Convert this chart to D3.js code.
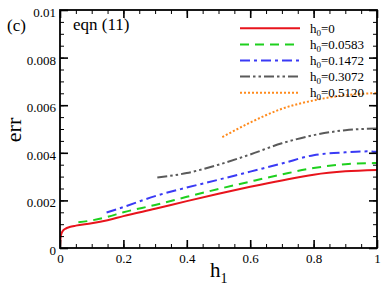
<!DOCTYPE html>
<html><head><meta charset="utf-8">
<script src="https://cdn.jsdelivr.net/npm/d3@7"></script>
<style>
body{margin:0;background:#fff;}
text{font-family:"Liberation Serif","Times New Roman",serif;fill:#000;}
</style></head>
<body><svg id="c" width="390" height="294"></svg>
<script>
const xTicks=[0,0.2,0.4,0.6,0.8,1];
const xTickLabels=["0","0.2","0.4","0.6","0.8","1"];
const yTicks=[0,0.002,0.004,0.006,0.008,0.01];
const yTickLabels=["0","0.002","0.004","0.006","0.008","0.01"];
const seriesNames=["0","0.0583","0.1472","0.3072","0.5120"];
const h1Red=[0,0.002,0.005,0.01,0.02,0.03,0.05,0.1,0.15,0.2,0.3,0.4,0.5,0.6,0.7,0.8,0.9,1.0];
const errRed=[0,0.00045,0.00062,0.00074,0.00083,0.00088,0.00094,0.00104,0.00117,0.00134,0.00165,0.00197,0.00228,0.00257,0.00284,0.00308,0.00322,0.00328];
const h1Green=[0.058,0.1,0.15,0.2,0.3,0.4,0.5,0.6,0.7,0.8,0.9,1.0];
const errGreen=[0.00108,0.00116,0.00131,0.0015,0.00181,0.00215,0.00248,0.00279,0.00309,0.00336,0.00352,0.00357];
const h1Blue=[0.147,0.2,0.3,0.4,0.5,0.6,0.7,0.8,0.9,0.97,1.0];
const errBlue=[0.00149,0.00172,0.00218,0.00254,0.00287,0.00321,0.00355,0.0039,0.00402,0.00406,0.00404];
const h1Gray=[0.307,0.4,0.5,0.6,0.7,0.8,0.9,1.0];
const errGray=[0.00296,0.00315,0.0035,0.00393,0.0044,0.00474,0.00495,0.00502];
const h1Orange=[0.512,0.6,0.7,0.8,0.9,1.0];
const errOrange=[0.00466,0.00527,0.00585,0.0062,0.00642,0.00651];

const series=[
 {name:seriesNames[0],xs:h1Red,ys:errRed,color:"#e8141c",dash:null},
 {name:seriesNames[1],xs:h1Green,ys:errGreen,color:"#1ed01e",dash:"9,6"},
 {name:seriesNames[2],xs:h1Blue,ys:errBlue,color:"#3a3af5",dash:"10,4,3,4"},
 {name:seriesNames[3],xs:h1Gray,ys:errGray,color:"#5a5a5a",dash:"10,3,2.5,3,2.5,3"},
 {name:seriesNames[4],xs:h1Orange,ys:errOrange,color:"#ff8a1c",dash:"2,2"}
];

const svg=d3.select("#c");
const L=60,R=377,T=10,B=248;
const x=d3.scaleLinear().domain([0,1]).range([L,R]);
const y=d3.scaleLinear().domain([0,0.01]).range([B,T]);
const g=svg.append("g");

svg.append("clipPath").attr("id","clip").append("rect").attr("x",L).attr("y",T).attr("width",R-L).attr("height",B-T);
const line=d3.line().x(d=>x(d[0])).y(d=>y(d[1])).curve(d3.curveMonotoneX);
series.forEach(s=>{
  const pts=s.xs.map((v,i)=>[v,s.ys[i]]);
  g.append("path").attr("d",line(pts)).attr("fill","none").attr("stroke",s.color)
   .attr("stroke-width",2).attr("stroke-dasharray",s.dash).attr("clip-path","url(#clip)");
});

const minorX=d3.range(0,1.0001,0.05);
const minorY=d3.range(0,0.01001,0.0005);
const axB=d3.axisBottom(x).tickValues(minorX).tickSize(-4).tickFormat("");
const axT=d3.axisTop(x).tickValues(minorX).tickSize(-4).tickFormat("");
const axL=d3.axisLeft(y).tickValues(minorY).tickSize(-4).tickFormat("");
const axR=d3.axisRight(y).tickValues(minorY).tickSize(-4).tickFormat("");
[[axB,`translate(0,${B})`],[axT,`translate(0,${T})`],[axL,`translate(${L},0)`],[axR,`translate(${R},0)`]].forEach(([a,t])=>{
  const gg=svg.append("g").attr("transform",t).call(a);
  gg.select(".domain").remove();
  gg.selectAll("line").attr("stroke","#000").attr("stroke-width",1);
});
const MB=d3.axisBottom(x).tickValues(xTicks).tickSize(-8).tickFormat((d,i)=>xTickLabels[i]).tickPadding(4);
const MT=d3.axisTop(x).tickValues(xTicks).tickSize(-8).tickFormat("");
const ML=d3.axisLeft(y).tickValues(yTicks).tickSize(-8).tickFormat((d,i)=>yTickLabels[i]).tickPadding(4);
const MR=d3.axisRight(y).tickValues(yTicks).tickSize(-8).tickFormat("");
const gB=svg.append("g").attr("transform",`translate(0,${B})`).call(MB);
const gT=svg.append("g").attr("transform",`translate(0,${T})`).call(MT);
const gL=svg.append("g").attr("transform",`translate(${L},0)`).call(ML);
const gR=svg.append("g").attr("transform",`translate(${R},0)`).call(MR);
[gB,gT,gL,gR].forEach(gg=>{
  gg.attr("font-family",null).attr("font-size",null);
  gg.select(".domain").remove();
  gg.selectAll("line").attr("stroke","#000").attr("stroke-width",1.6);
  gg.selectAll("text").style("font-family","'Liberation Serif',serif").style("font-size","13px").attr("fill","#000");
});
gB.selectAll("text").attr("y",3).attr("dy","0.95em");
gL.selectAll("text").attr("dy","0.5em");

svg.append("rect").attr("x",L).attr("y",T).attr("width",R-L).attr("height",B-T)
 .attr("fill","none").attr("stroke","#000").attr("stroke-width",1.8);

svg.append("text").attr("x",7).attr("y",31).attr("font-size",17).text("(c)");
svg.append("text").attr("x",73).attr("y",30).attr("font-size",17).text("eqn (11)");

const xl=svg.append("text").attr("x",210).attr("y",277).attr("font-size",21);
xl.append("tspan").text("h");
xl.append("tspan").attr("font-size",14).attr("dy",6).text("1");
svg.append("text").attr("transform","translate(21,130) rotate(-90)").attr("text-anchor","middle").attr("font-size",22).text("err");

series.forEach((s,i)=>{
  const yy=28.3+i*16.1;
  svg.append("line").attr("x1",240).attr("x2",300).attr("y1",yy).attr("y2",yy)
   .attr("stroke",s.color).attr("stroke-width",2).attr("stroke-dasharray",s.dash);
  const t=svg.append("text").attr("x",310).attr("y",yy+4.5).attr("font-size",13);
  t.append("tspan").text("h");
  t.append("tspan").attr("font-size",9).attr("dy",3).text("0");
  t.append("tspan").attr("dy",-3).text("="+s.name);
});
</script></body></html>
